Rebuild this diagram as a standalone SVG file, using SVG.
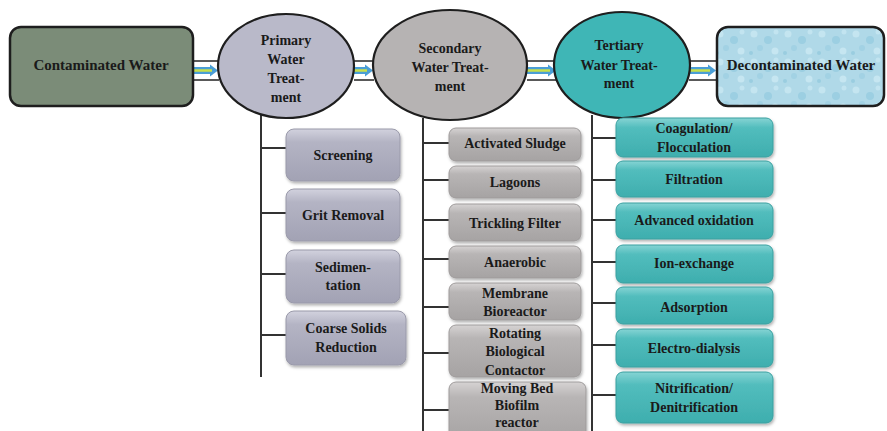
<svg xmlns="http://www.w3.org/2000/svg" width="887" height="431" viewBox="0 0 887 431">
<style>
text{font-family:"Liberation Serif","Times New Roman",serif;font-weight:bold;fill:#1a1a1a;text-anchor:middle;font-size:14px}
.big{font-size:15px}
.ell{stroke:#1e1e1e;stroke-width:2.2}
.end{stroke:#1e1e1e;stroke-width:2.5}
.tree{stroke:#333;stroke-width:2;fill:none}
.pbox{fill:url(#gp);stroke:#9a9aaa;stroke-width:1;filter:url(#sh)}
.sbox{fill:url(#gs);stroke:#9e9b9b;stroke-width:1;filter:url(#sh)}
.tbox{fill:url(#gt);stroke:#3aa0a0;stroke-width:1;filter:url(#sh)}
.band{stroke:#222;stroke-width:1.5}
.shaft{stroke:#4a9ed6;stroke-width:7}
.core{stroke:#c8e04a;stroke-width:2.5}
.head{fill:#4a9ed6}
</style>
<defs>
<linearGradient id="gp" x1="0" y1="0" x2="0" y2="1"><stop offset="0" stop-color="#d2d2de"/><stop offset="0.25" stop-color="#b4b4c4"/><stop offset="1" stop-color="#a2a2b4"/></linearGradient>
<linearGradient id="gs" x1="0" y1="0" x2="0" y2="1"><stop offset="0" stop-color="#d6d3d3"/><stop offset="0.25" stop-color="#b8b5b5"/><stop offset="1" stop-color="#a6a3a3"/></linearGradient>
<linearGradient id="gt" x1="0" y1="0" x2="0" y2="1"><stop offset="0" stop-color="#86d4d4"/><stop offset="0.25" stop-color="#52bdbd"/><stop offset="1" stop-color="#3eaeae"/></linearGradient>
<filter id="sh" x="-10%" y="-10%" width="125%" height="130%"><feDropShadow dx="1" dy="2" stdDeviation="1.5" flood-color="#000" flood-opacity="0.3"/></filter>
<pattern id="bub" width="34" height="28" patternUnits="userSpaceOnUse">
<rect width="34" height="28" fill="#b0d9e8"/>
<circle cx="6" cy="6" r="3.5" fill="#c4e5f0"/>
<circle cx="20" cy="12" r="4" fill="#9ccfe2"/>
<circle cx="28" cy="4" r="2.5" fill="#c2e4f0"/>
<circle cx="12" cy="20" r="3" fill="#a2d2e4"/>
<circle cx="27" cy="23" r="3.5" fill="#c6e6f1"/>
<circle cx="3" cy="25" r="2" fill="#9acde0"/>
</pattern>
</defs>
<rect width="887" height="431" fill="#ffffff"/>

<g id="connectors">
<g id="c1"><rect x="193" y="61" width="26" height="19" fill="#fff"/><line class="band" x1="193" y1="61" x2="219" y2="61"/><line class="band" x1="193" y1="80" x2="219" y2="80"/><line class="shaft" x1="193" y1="70.5" x2="211" y2="70.5"/><polygon class="head" points="210,64.5 218,70.5 210,76.5"/><line class="core" x1="193" y1="70.5" x2="212" y2="70.5"/></g>
<g id="c2"><rect x="354" y="61" width="20" height="19" fill="#fff"/><line class="band" x1="354" y1="61" x2="374" y2="61"/><line class="band" x1="354" y1="80" x2="374" y2="80"/><line class="shaft" x1="354" y1="70.5" x2="366" y2="70.5"/><polygon class="head" points="365,64.5 373,70.5 365,76.5"/><line class="core" x1="354" y1="70.5" x2="367" y2="70.5"/></g>
<g id="c3"><rect x="527" y="61" width="31" height="19" fill="#fff"/><line class="band" x1="527" y1="61" x2="558" y2="61"/><line class="band" x1="527" y1="80" x2="558" y2="80"/><line class="shaft" x1="527" y1="70.5" x2="549" y2="70.5"/><polygon class="head" points="548,64.5 556,70.5 548,76.5"/><line class="core" x1="527" y1="70.5" x2="550" y2="70.5"/></g>
<g id="c4"><rect x="689" y="61" width="29" height="19" fill="#fff"/><line class="band" x1="689" y1="61" x2="718" y2="61"/><line class="band" x1="689" y1="80" x2="718" y2="80"/><line class="shaft" x1="689" y1="70.5" x2="709" y2="70.5"/><polygon class="head" points="708,64.5 716,70.5 708,76.5"/><line class="core" x1="689" y1="70.5" x2="710" y2="70.5"/></g>
<g id="tree-primary" class="tree"><line x1="261" y1="112" x2="261" y2="377"/><line x1="261" y1="148" x2="286" y2="148"/><line x1="261" y1="213" x2="286" y2="213"/><line x1="261" y1="274" x2="286" y2="274"/><line x1="261" y1="335" x2="286" y2="335"/></g>
<g id="tree-secondary" class="tree"><line x1="423" y1="118" x2="423" y2="431"/><line x1="423" y1="143" x2="449" y2="143"/><line x1="423" y1="180" x2="449" y2="180"/><line x1="423" y1="220" x2="449" y2="220"/><line x1="423" y1="259" x2="449" y2="259"/><line x1="423" y1="307" x2="449" y2="307"/><line x1="423" y1="353" x2="449" y2="353"/><line x1="423" y1="410" x2="449" y2="410"/></g>
<g id="tree-tertiary" class="tree"><line x1="592" y1="115" x2="592" y2="431"/><line x1="592" y1="138" x2="616" y2="138"/><line x1="592" y1="180" x2="616" y2="180"/><line x1="592" y1="220" x2="616" y2="220"/><line x1="592" y1="262" x2="616" y2="262"/><line x1="592" y1="303" x2="616" y2="303"/><line x1="592" y1="345" x2="616" y2="345"/><line x1="592" y1="395" x2="616" y2="395"/></g>
</g>

<g id="contaminated"><rect class="end" x="10" y="27" width="183" height="79" rx="11" fill="#7b8c78"/><text class="big" x="101" y="70">Contaminated Water</text></g>
<g id="primary"><ellipse class="ell" cx="286" cy="66" rx="68" ry="52" fill="#b9b9c9"/><text x="286" y="45">Primary</text><text x="286" y="64">Water</text><text x="286" y="83">Treat-</text><text x="286" y="102">ment</text></g>
<g id="secondary"><ellipse class="ell" cx="450" cy="65" rx="77" ry="55" fill="#b6b3b3"/><text x="450" y="53">Secondary</text><text x="450" y="72">Water Treat-</text><text x="450" y="91">ment</text></g>
<g id="tertiary"><ellipse class="ell" cx="622" cy="65" rx="68" ry="53" fill="#3fb6b6"/><text x="619" y="50">Tertiary</text><text x="619" y="70">Water Treat-</text><text x="619" y="88">ment</text></g>
<g id="decontaminated"><rect class="end" x="717" y="27" width="167" height="79" rx="11" fill="url(#bub)"/><text class="big" x="801" y="70">Decontaminated Water</text></g>

<g id="p1"><rect class="pbox" x="286" y="129" width="114" height="52" rx="8"/><text x="343" y="160">Screening</text></g>
<g id="p2"><rect class="pbox" x="286" y="189" width="114" height="52" rx="8"/><text x="343" y="220">Grit Removal</text></g>
<g id="p3"><rect class="pbox" x="286" y="250" width="114" height="53" rx="8"/><text x="343" y="272">Sedimen-</text><text x="343" y="290">tation</text></g>
<g id="p4"><rect class="pbox" x="286" y="311" width="120" height="54" rx="8"/><text x="346" y="333">Coarse Solids</text><text x="346" y="352">Reduction</text></g>

<g id="s1"><rect class="sbox" x="449" y="128" width="132" height="33" rx="7"/><text x="515" y="148">Activated Sludge</text></g>
<g id="s2"><rect class="sbox" x="449" y="166" width="132" height="32" rx="7"/><text x="515" y="187">Lagoons</text></g>
<g id="s3"><rect class="sbox" x="449" y="204" width="132" height="37" rx="7"/><text x="515" y="228">Trickling Filter</text></g>
<g id="s4"><rect class="sbox" x="449" y="246" width="132" height="32" rx="7"/><text x="515" y="267">Anaerobic</text></g>
<g id="s5"><rect class="sbox" x="449" y="283" width="132" height="37" rx="7"/><text x="515" y="298">Membrane</text><text x="515" y="316">Bioreactor</text></g>
<g id="s6"><rect class="sbox" x="449" y="325" width="132" height="52" rx="7"/><text x="515" y="338">Rotating</text><text x="515" y="356">Biological</text><text x="515" y="375">Contactor</text></g>
<g id="s7"><rect class="sbox" x="449" y="382" width="137" height="60" rx="7"/><text x="517" y="393">Moving Bed</text><text x="517" y="410">Biofilm</text><text x="517" y="427">reactor</text></g>

<g id="t1"><rect class="tbox" x="616" y="118" width="157" height="39" rx="7"/><text x="694" y="133">Coagulation/</text><text x="694" y="152">Flocculation</text></g>
<g id="t2"><rect class="tbox" x="616" y="161" width="157" height="36" rx="7"/><text x="694" y="184">Filtration</text></g>
<g id="t3"><rect class="tbox" x="616" y="203" width="157" height="36" rx="7"/><text x="694" y="225">Advanced  oxidation</text></g>
<g id="t4"><rect class="tbox" x="616" y="245" width="157" height="38" rx="7"/><text x="694" y="268">Ion-exchange</text></g>
<g id="t5"><rect class="tbox" x="616" y="287" width="157" height="37" rx="7"/><text x="694" y="312">Adsorption</text></g>
<g id="t6"><rect class="tbox" x="616" y="329" width="157" height="38" rx="7"/><text x="694" y="353">Electro-dialysis</text></g>
<g id="t7"><rect class="tbox" x="616" y="372" width="157" height="51" rx="7"/><text x="694" y="393">Nitrification/</text><text x="694" y="412">Denitrification</text></g>
</svg>
